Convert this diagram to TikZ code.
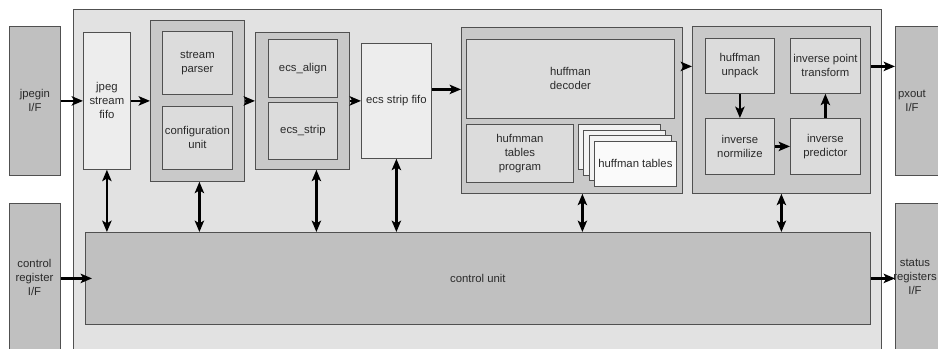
\documentclass[tikz,border=0pt]{standalone}
\usepackage{fontspec}
\setmainfont{Liberation Sans}
\usetikzlibrary{arrows.meta}
\definecolor{panelgray}{HTML}{E2E2E2}
\definecolor{groupgray}{HTML}{C9C9C9}
\definecolor{innergray}{HTML}{DCDCDC}
\definecolor{portgray}{HTML}{C0C0C0}
\definecolor{fifogray}{HTML}{EDEDED}
\definecolor{sheetgray}{HTML}{F2F2F2}
\definecolor{edgegray}{HTML}{505050}
\definecolor{labelgray}{HTML}{2A2A2A}
\newlength\pxu
\setlength\pxu{0.75pt}
\tikzset{blk/.style={draw=edgegray, line width=0.6pt, anchor=north west, inner sep=0pt,
    align=center, text=labelgray, font=\fontsize{8.5}{10.5}\selectfont}}
\tikzset{wh/.style 2 args={minimum width=#1\pxu, minimum height=#2\pxu}}
\tikzset{flow/.style={line width=1.7pt, -{Stealth[length=8.5pt, width=7pt, inset=2pt]}}}
\tikzset{bus/.style={line width=1.7pt, {Stealth[length=8.5pt, width=7pt, inset=2pt]}-{Stealth[length=8.5pt, width=7pt, inset=2pt]}}}

\begin{document}
\begin{tikzpicture}[x=0.75pt, y=-0.75pt]
        \useasboundingbox (0,0) rectangle (938,349);

        % outer panel and interfaces
        \node[blk, fill=panelgray, wh={808}{400}] (panel) at (73,9) {};
        \node[blk, fill=portgray, wh={51}{149}] (jpegin) at (9,26) {jpegin\\I/F};
        \node[blk, fill=portgray, wh={51}{200}] (creg) at (9,203) {};
        \node[blk, fill=portgray, wh={51}{149}] (pxout) at (895,26) {};
        \node[blk, fill=portgray, wh={51}{200}] (sreg) at (895,203) {};
        \node[blk, draw=none, anchor=center] (cregtxt) at (34.5,277) {control\\register\\I/F};
        \node[blk, draw=none, anchor=center] (pxouttxt) at (912,101) {pxout\\I/F};
        \node[blk, draw=none, anchor=center] (sregtxt) at (915,277) {status\\registers\\I/F};

        % pipeline
        \node[blk, fill=fifogray, wh={47}{137}] (jfifo) at (83,32) {jpeg\\stream\\fifo};

        \node[blk, fill=groupgray, wh={94}{161}] (pgrp) at (150,20) {};
        \node[blk, fill=innergray, wh={70}{63}] (parser) at (162,31) {stream\\parser};
        \node[blk, fill=innergray, wh={70}{63}] (config) at (162,106) {configuration\\unit};

        \node[blk, fill=groupgray, wh={94}{137}] (egrp) at (255,32) {};
        \node[blk, fill=innergray, wh={69}{58}] (ealign) at (268,39) {ecs\_align};
        \node[blk, fill=innergray, wh={69}{57}] (estrip) at (268,102) {ecs\_strip};

        \node[blk, fill=fifogray, wh={70}{115}] (efifo) at (361,43) {ecs strip fifo};

        \node[blk, fill=groupgray, wh={221}{166}] (hgrp) at (461,27) {};
        \node[blk, fill=innergray, wh={208}{79}] (hdec) at (466,39) {huffman\\decoder};
        \node[blk, fill=innergray, wh={107}{58}] (hprog) at (466,124) {hufmman\\tables\\program};
        \foreach \i in {0,1,2}
            \node[blk, fill=sheetgray, wh={82}{45}] (hsheet\i) at ({578+5.33*\i},{124+5.67*\i}) {};
        \node[blk, fill=white!60!sheetgray, wh={82}{45}] (htab) at (594,141) {huffman tables};

        \node[blk, fill=groupgray, wh={178}{167}] (rgrp) at (692,26) {};
        \node[blk, fill=innergray, wh={69}{55}] (hunpack) at (705,38) {huffman\\unpack};
        \node[blk, fill=innergray, wh={70}{55}] (ipt) at (790,38) {inverse point\\transform};
        \node[blk, fill=innergray, wh={69}{56}] (inorm) at (705,118) {inverse\\normilize};
        \node[blk, fill=innergray, wh={70}{56}] (ipred) at (790,118) {inverse\\predictor};

        \node[blk, fill=portgray, wh={785}{92}] (cu) at (85,232) {control unit};

        % data flow
        \coordinate (h2r) at ([yshift=44\pxu]hgrp.east);
        \coordinate (e2h) at ([yshift=11.5\pxu]efifo.east);
        \draw[flow] (jpegin.east |- jfifo.west) -- (jfifo.west);
        \draw[flow] (jfifo.east) -- (pgrp.west);
        \draw[flow] (pgrp.east) -- (egrp.west);
        \draw[flow] (egrp.east) -- (efifo.west);
        \draw[flow] (e2h) -- (e2h -| hgrp.west);
        \draw[flow] (h2r) -- (h2r -| rgrp.west);
        \draw[flow] (h2r -| rgrp.east) -- (h2r -| pxout.west);
        \draw[flow] (hunpack) -- (inorm);
        \draw[flow] (inorm) -- (ipred);
        \draw[flow] (ipred) -- (ipt);
        \draw[flow] (cu.west -| creg.east) -- ([xshift=7\pxu]cu.west);
        \draw[flow] (cu.east) -- (cu.east -| sreg.west);

        % control links
        \coordinate (p2c) at ([xshift=2\pxu]pgrp.south);
        \coordinate (e2c) at ([xshift=14\pxu]egrp.south);
        \coordinate (h2c) at ([xshift=10.5\pxu]hgrp.south);
        \draw[bus] (jfifo.south) -- (jfifo.south |- cu.north);
        \draw[bus] (p2c) -- (p2c |- cu.north);
        \draw[bus] (e2c) -- (e2c |- cu.north);
        \draw[bus] (efifo.south) -- (efifo.south |- cu.north);
        \draw[bus] (h2c) -- (h2c |- cu.north);
        \draw[bus] (rgrp.south) -- (rgrp.south |- cu.north);
\end{tikzpicture}
\end{document}
